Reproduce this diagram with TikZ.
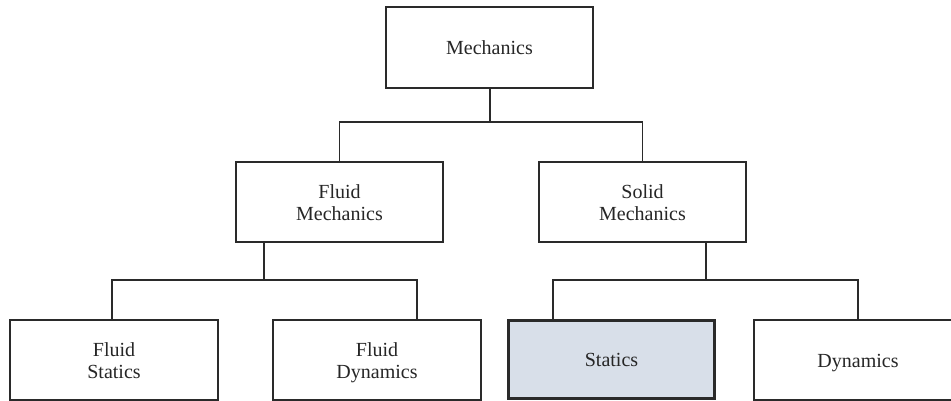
\documentclass[tikz,border=0pt]{standalone}
\usepackage{fontspec}
\setmainfont{Liberation Serif}
\definecolor{linec}{HTML}{2A2A2A}
\definecolor{statfill}{HTML}{D8DFE9}
\newcommand\twoline[2]{\begin{tabular}[t]{@{}c@{}}#1\\#2\end{tabular}}
\begin{document}
\begin{tikzpicture}[x=1pt,y=-1pt,
  box/.style={draw=linec,line width=1.3pt,fill=white,minimum width=207pt,minimum height=80pt,inner sep=0pt,font=\fontsize{20}{22}\selectfont,text=black!85,
    text height=14pt,text depth=0pt},
  twobox/.style={box,text height=10pt,text depth=16.6pt},
  hibox/.style={box,fill=statfill,line width=3pt,minimum width=206pt,minimum height=78pt},
  conn/.style={draw=linec,line width=1.3pt}]
\useasboundingbox (0,0) rectangle (951,401);
\clip (0,0) rectangle (951,401);
\fill[white] (0,0) rectangle (951,401);
% nodes
\node[box,minimum height=81pt] (mech) at (489.5,47.5) {Mechanics};
\node[twobox] (fm) at (339.5,202) {\twoline{Fluid}{Mechanics}};
\node[twobox] (sm) at (642.5,202) {\twoline{Solid}{Mechanics}};
\node[twobox,minimum width=208pt] (fs) at (114,360) {\twoline{Fluid}{Statics}};
\node[twobox,minimum width=208pt] (fd) at (377,360) {\twoline{Fluid}{Dynamics}};
\node[hibox] (st) at (611.5,359.5) {Statics};
\node[box,minimum width=208pt] (dy) at (858,360) {Dynamics};
% junction coordinates
\coordinate (j1) at (490,122);
\coordinate (j2) at (264,280);
\coordinate (a1) at (112,280);
\coordinate (a2) at (417,280);
\coordinate (j3) at (706,280);
\coordinate (b1) at (553,280);
\coordinate (b2) at (858,280);
% connectors
\draw[conn] (mech.south -| j1) -- (j1);
\draw[conn] (fm.north) |- (j1) -| (sm.north);
\draw[conn] (fm.south -| j2) -- (j2);
\draw[conn] (a1 |- fs.north) -- (a1) -- (a2) -- (a2 |- fd.north);
\draw[conn] (sm.south -| j3) -- (j3);
\draw[conn] (b1 |- st.north) -- (b1) -- (b2) -- (b2 |- dy.north);
\end{tikzpicture}
\end{document}
